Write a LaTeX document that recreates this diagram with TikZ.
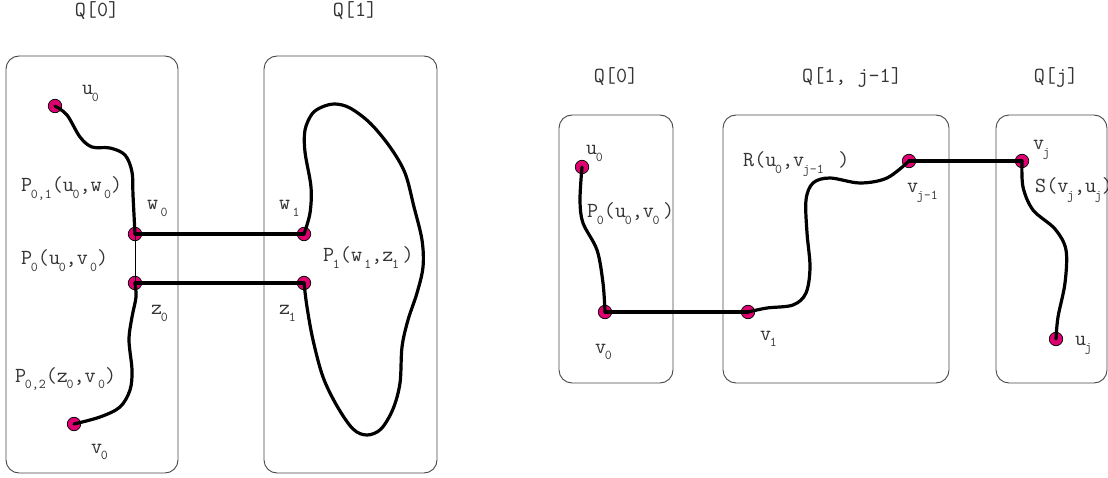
\documentclass[tikz,border=0pt]{standalone}
\definecolor{dotc}{RGB}{222,0,112}
\definecolor{txt}{RGB}{51,51,51}
\definecolor{boxc}{RGB}{70,70,70}
\newcommand\sbx[1]{\kern-0.06em\raisebox{-0.32em}{\fontsize{13.5}{14}\selectfont #1}}
\begin{document}
\begin{tikzpicture}[x=1pt,y=-1pt,
  qbox/.style={draw=boxc, line width=0.9pt, rounded corners=13pt, inner sep=0, fill=none},
  pt/.style={circle, draw=black, line width=0.7pt, fill=dotc, minimum size=13.5pt, inner sep=0},
  lab/.style={anchor=base west, inner sep=0, text=txt, font=\ttfamily\fontsize{21.5}{24}\selectfont},
  qlab/.style={anchor=base, inner sep=0, text=txt, font=\ttfamily\fontsize{21.5}{24}\selectfont},
  path/.style={line width=3.2pt, line join=round, line cap=round},
  thin/.style={line width=0.9pt}]
\useasboundingbox (0,0) rectangle (1108,478);
% ---------- left diagram ----------
\node[qbox, minimum width=172pt, minimum height=417pt] (LQ0) at (92,264.5) {};
\node[qbox, minimum width=173pt, minimum height=417pt] (LQ1) at (350.5,264.5) {};
\node[qlab] (tLQ0) at (97,17) {Q[0]};
\node[qlab] (tLQ1) at (355,17) {Q[1]};
\node[pt] (u0) at (55,106) {};
\node[pt] (w0) at (135,234) {};
\node[pt] (z0) at (135,283) {};
\node[pt] (v0) at (74,424) {};
\node[pt] (w1) at (304,234) {};
\node[pt] (z1) at (304,283) {};
\draw[thin] (w0.center) -- (z0.center);
\draw[path] (w0.center) -- (w1.center);
\draw[path] (z0.center) -- (z1.center);
\draw[path] plot[smooth, tension=0.55] coordinates {(u0.center) (67,115) (80,137) (92,147) (110,148) (125,155) (132,172) (133,195) (w0.center)};
\draw[path] plot[smooth, tension=0.55] coordinates {(z0.center) (136,297) (132,317) (129,340) (132,370) (130,390) (120,407) (100,417) (v0.center)};
\draw[path] plot[smooth, tension=0.55] coordinates {(w1.center) (310,213) (311,187) (305,152) (305,130) (312,114) (322,107) (335,104) (350,108) (370,123) (390,147) (405,173) (414,207) (422,240) (423,267) (417,293) (408,320) (402,347) (400,383) (393,409) (381,429) (367,435) (353,429) (337,406) (323,377) (313,340) (307,307) (z1.center)};
\node[lab] (lu0) at (82,95) {u\sbx{0}};
\node[lab] (lP01) at (21,192) {P\sbx{0,1}(u\sbx{0},w\,\sbx{0})};
\node[lab] (lw0) at (147,210) {w\,\sbx{0}};
\node[lab] (lP0) at (21,265) {P\sbx{0}(u\sbx{0},v\,\sbx{0})};
\node[lab] (lz0) at (151,315) {z\sbx{0}};
\node[lab] (lP02) at (15,382) {P\sbx{0,2}(z\sbx{0},v\,\sbx{0})};
\node[lab] (lv0) at (91,453) {v\sbx{0}};
\node[lab] (lw1) at (279,210) {w\,\sbx{1}};
\node[lab] (lP1) at (323,262) {P\sbx{1}(w\,\sbx{1},z\sbx{1}\,)};
\node[lab] (lz1) at (279,315) {z\sbx{1}};
% ---------- right diagram ----------
\node[qbox, minimum width=114pt, minimum height=268pt] (RQ0) at (616,249) {};
\node[qbox, minimum width=226pt, minimum height=268pt] (RQ1) at (836,249) {};
\node[qbox, minimum width=111pt, minimum height=268pt] (RQj) at (1051.5,249) {};
\node[qlab] (tRQ0) at (616,83) {Q[0]};
\node[qlab] (tRQ1) at (852,83) {Q[1, j-1]};
\node[qlab] (tRQj) at (1056,83) {Q[j]};
\node[pt] (ru0) at (582,167) {};
\node[pt] (rv0) at (605,312) {};
\node[pt] (rv1) at (748,312) {};
\node[pt] (rvj1) at (909,161) {};
\node[pt] (rvj) at (1022,161) {};
\node[pt] (ruj) at (1056,339) {};
\draw[path] plot[smooth, tension=0.55] coordinates {(ru0.center) (580,200) (583,223) (597,250) (603,283) (rv0.center)};
\draw[path] (rv0.center) -- (rv1.center);
\draw[path] plot[smooth, tension=0.55] coordinates {(rv1.center) (767,308) (793,305) (806,293) (810,267) (807,233) (806,200) (813,183) (830,178) (860,183) (887,178) (rvj1.center)};
\draw[path] (rvj1.center) -- (rvj.center);
\draw[path] plot[smooth, tension=0.55] coordinates {(rvj.center) (1023,187) (1033,210) (1055,229) (1066,250) (1065,283) (1058,317) (ruj.center)};
\node[lab] (ru0l) at (586,155) {u\sbx{0}};
\node[lab] (rP0) at (587,218) {P\sbx{0}(u\sbx{0},v\sbx{0}\,)};
\node[lab] (rv0l) at (595,353) {v\sbx{0}};
\node[lab] (rR) at (743,167) {R(u\sbx{0},v\sbx{j-1}\, )};
\node[lab] (rvj1l) at (907,193) {v\sbx{j-1}};
\node[lab] (rv1l) at (760,340) {v\sbx{1}};
\node[lab] (rvjl) at (1033,150) {v\sbx{j}};
\node[lab] (rS) at (1035,193) {S(v\sbx{j},u\sbx{j})};
\node[lab] (rujl) at (1075,345) {u\sbx{j}};
\end{tikzpicture}
\end{document}
